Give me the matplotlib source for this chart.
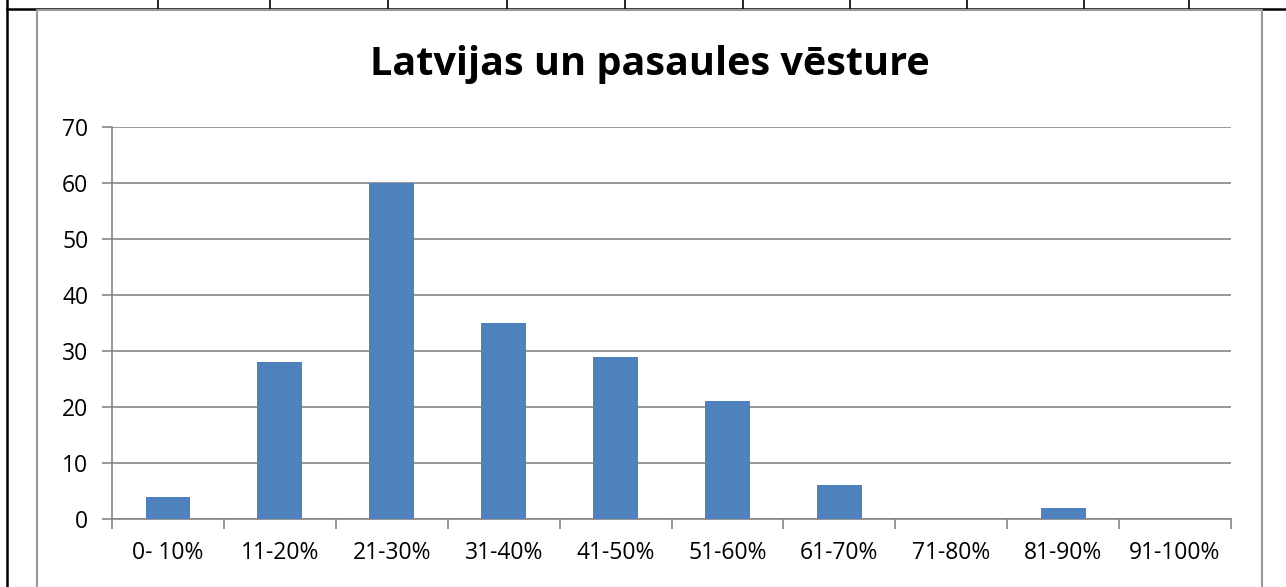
import matplotlib
matplotlib.use("Agg")
import matplotlib.pyplot as plt
from matplotlib.lines import Line2D

categories = ["0- 10%", "11-20%", "21-30%", "31-40%", "41-50%",
              "51-60%", "61-70%", "71-80%", "81-90%", "91-100%"]
values = [4, 28, 60, 35, 29, 21, 6, 0, 2, 0]
title = "Latvijas un pasaules vēsture"

W, H = 1286, 587
fig = plt.figure(figsize=(W / 100, H / 100), dpi=100)
fig.patch.set_facecolor("white")

def fx(x):
    return x / W

def fy(y):
    return 1 - y / H

# page / table borders
fig.add_artist(Line2D([fx(7), fx(7)], [0, 1], color="black", lw=1.8))
fig.add_artist(Line2D([fx(7), 1], [fy(8.5), fy(8.5)], color="black", lw=1.8))
for xv in [158, 270, 388, 507, 625, 743, 850, 967, 1084, 1189]:
    fig.add_artist(Line2D([fx(xv), fx(xv)], [fy(8.5), 1], color="black", lw=1.2))
# chart frame
fig.add_artist(Line2D([fx(37), fx(37), fx(1262), fx(1262)],
                      [0, fy(10), fy(10), 0], color="#999999", lw=1.5))

ax = fig.add_axes([fx(112), fy(519), fx(1231) - fx(112), fy(127) - fy(519)])
x = list(range(len(categories)))
ax.bar(x, values, width=0.4, color="#4F81BD", zorder=3)
ax.set_xlim(-0.5, len(categories) - 0.5)
ax.set_ylim(0, 70)
ax.set_yticks(range(0, 71, 10))
ax.grid(axis="y", color="#868686", lw=1.2, zorder=0)
ax.set_axisbelow(True)

ax.set_xticks([i - 0.5 for i in range(len(categories) + 1)])
ax.set_xticklabels([])
ax.set_xticks(x, minor=True)
ax.set_xticklabels(categories, minor=True, fontsize=16.5, family="Open Sans")
ax.tick_params(axis="x", which="major", length=7, width=1.2, color="#868686", direction="out")
ax.tick_params(axis="x", which="minor", length=0, pad=16)
ax.tick_params(axis="y", length=7, width=1.2, color="#868686", labelsize=16.5, pad=10)
for lab in ax.get_yticklabels():
    lab.set_family("Open Sans")

for s in ["top", "right"]:
    ax.spines[s].set_visible(False)
for s in ["left", "bottom"]:
    ax.spines[s].set_color("#868686")
    ax.spines[s].set_linewidth(1.2)

fig.text(fx(650), fy(65), title, ha="center", va="center",
         fontsize=28.5, fontweight="bold", family="Open Sans")

fig.savefig("out.png", dpi=100, facecolor="white")
